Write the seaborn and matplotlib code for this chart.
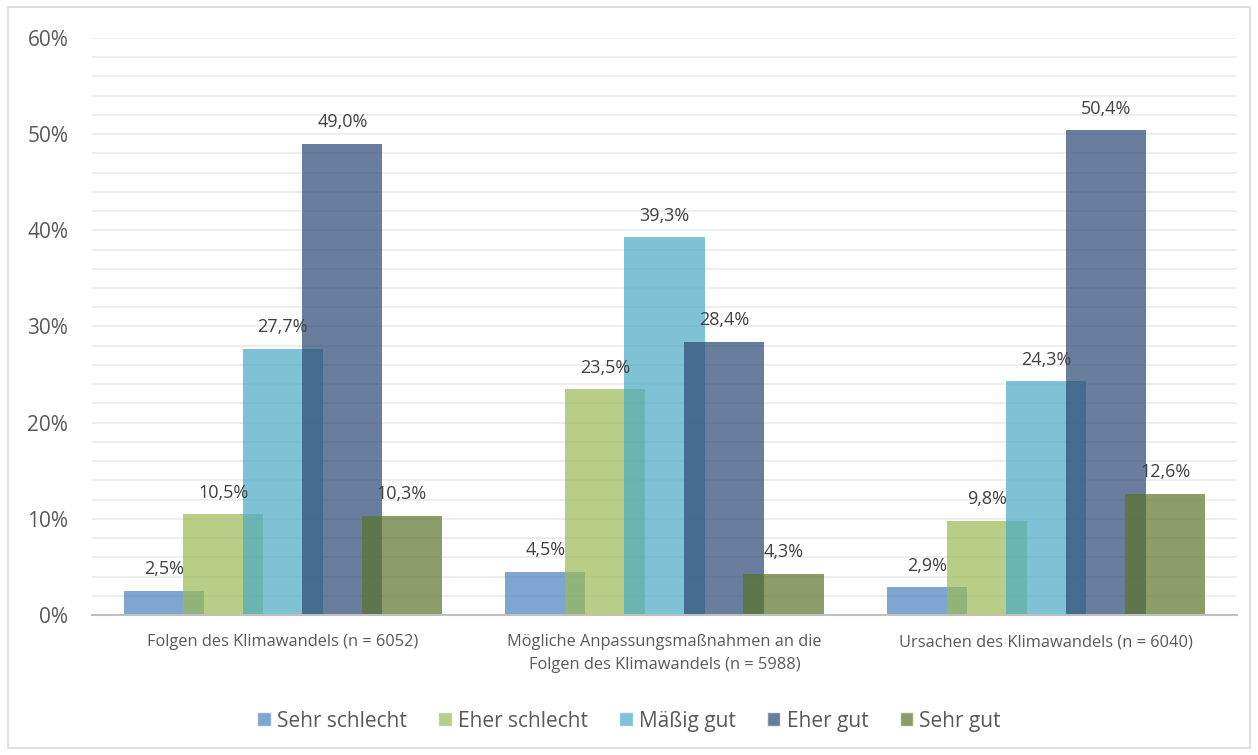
import matplotlib.pyplot as plt
import matplotlib.patches as mpatches
import pandas as pd
import seaborn as sns
from matplotlib.ticker import FuncFormatter, MultipleLocator

categories = [
    "Folgen des Klimawandels (n = 6052)",
    "Mögliche Anpassungsmaßnahmen an die\nFolgen des Klimawandels (n = 5988)",
    "Ursachen des Klimawandels (n = 6040)",
]
ratings = ["Sehr schlecht", "Eher schlecht", "Mäßig gut", "Eher gut", "Sehr gut"]
sehr_schlecht = [2.5, 4.5, 2.9]
eher_schlecht = [10.5, 23.5, 9.8]
maessig_gut = [27.7, 39.3, 24.3]
eher_gut = [49.0, 28.4, 50.4]
sehr_gut = [10.3, 4.3, 12.6]

colors = ["#4880BD", "#9ABA55", "#4AA9C4", "#2A4872", "#5B742A"]
ALPHA = 0.7

series = [sehr_schlecht, eher_schlecht, maessig_gut, eher_gut, sehr_gut]
rows = []
for rating, vals in zip(ratings, series):
    for cat, v in zip(categories, vals):
        rows.append({"Thema": cat, "Bewertung": rating, "Anteil": v})
df = pd.DataFrame(rows)

sns.set_theme(style="white")
plt.rcParams["font.family"] = ["Open Sans", "DejaVu Sans"]
text_color = "#595959"

fig = plt.figure(figsize=(12.58, 7.55), dpi=100)
ax = fig.add_axes([0.0731, 0.1854, 0.9102, 0.7643])

sns.barplot(data=df, x="Thema", y="Anteil", hue="Bewertung", order=categories,
            hue_order=ratings, palette=colors, width=0.78, dodge=True,
            alpha=ALPHA, saturation=1, errorbar=None, legend=False, ax=ax)

# Excel-style overlapping bars: widen each bar around its centre
bar_w = 0.21
for container, rating in zip(ax.containers, ratings):
    for patch in container:
        cx = patch.get_x() + patch.get_width() / 2
        patch.set_width(bar_w)
        patch.set_x(cx - bar_w / 2)
        patch.set_linewidth(0)
    labels = [f"{v:.1f}%".replace(".", ",") for v in container.datavalues]
    ax.bar_label(container, labels=labels, padding=9, fontsize=13, color="#404040")

ax.set_xlim(-0.5, 2.5)
ax.set_ylim(0, 60)
ax.yaxis.set_major_locator(MultipleLocator(10))
ax.yaxis.set_minor_locator(MultipleLocator(2))
ax.yaxis.set_major_formatter(FuncFormatter(lambda v, _: f"{v:.0f}%"))
ax.grid(axis="y", which="both", color="#EBEBEB", linewidth=1.2)
ax.set_axisbelow(True)
ax.tick_params(axis="y", which="both", length=0, labelsize=15, labelcolor=text_color, pad=17)
ax.tick_params(axis="x", length=0, labelsize=11.8, labelcolor=text_color, pad=14)
for lab in ax.get_xticklabels():
    lab.set_linespacing(1.55)
ax.set_xlabel("")
ax.set_ylabel("")
sns.despine(ax=ax, left=True, top=True, right=True)
ax.spines["bottom"].set_color("#BFBFBF")
ax.spines["bottom"].set_linewidth(1.5)

handles = [mpatches.Patch(facecolor=c, alpha=ALPHA, label=r) for c, r in zip(colors, ratings)]
fig.legend(handles=handles, loc="center", bbox_to_anchor=(0.5, 0.045), ncol=5,
           frameon=False, fontsize=15, labelcolor=text_color, handlelength=0.65,
           handleheight=0.65, handletextpad=0.3, columnspacing=1.5)

fig.add_artist(mpatches.Rectangle((0.006, 0.009), 0.988, 0.982, transform=fig.transFigure,
                                  fill=False, edgecolor="#D9D9D9", linewidth=1.2))

fig.savefig("out.png", dpi=100)
